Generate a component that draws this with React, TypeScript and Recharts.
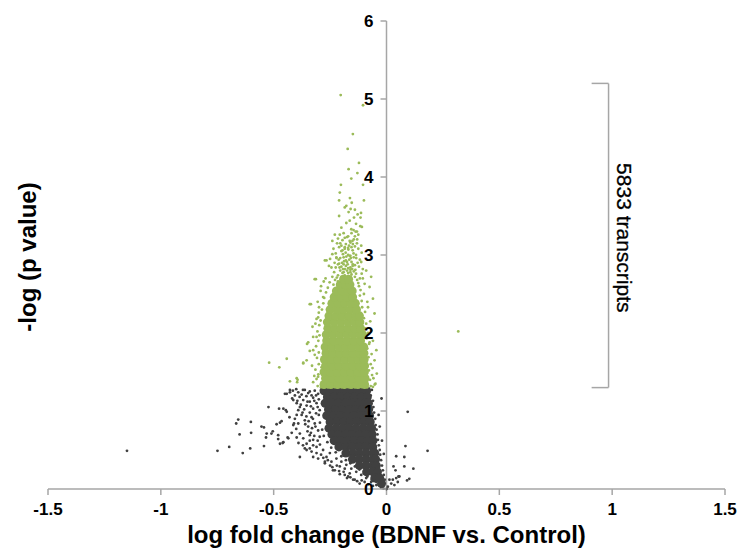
import React from 'react';
import { ScatterChart, Scatter, XAxis, YAxis, ReferenceLine, ReferenceDot } from 'recharts';

const FONT = '"Liberation Sans", Arial, Helvetica, sans-serif';
const GREEN = '#9BBB59';
const DARK = '#404040';
const AXIS = '#A6A6A6';

const xTicks = [-1.5, -1, -0.5, 0, 0.5, 1, 1.5];
const yTicks = [0, 1, 2, 3, 4, 5, 6];

const xTitle = 'log fold change (BDNF vs. Control)';
const yTitle = '-log (p value)';
const bracketText = '5833 transcripts';
const bracketLow = 1.3;
const bracketHigh = 5.2;

// dense body of significant transcripts (green)
const greenCore: [number, number][] = [
  [-0.277, 1.34], [-0.247, 1.34], [-0.217, 1.34], [-0.187, 1.34], [-0.157, 1.34], [-0.127, 1.34], [-0.097, 1.34],
  [-0.27, 1.42], [-0.24, 1.42], [-0.21, 1.42], [-0.18, 1.42], [-0.15, 1.42], [-0.12, 1.42], [-0.095, 1.42],
  [-0.277, 1.5], [-0.247, 1.5], [-0.217, 1.5], [-0.187, 1.5], [-0.157, 1.5], [-0.127, 1.5], [-0.098, 1.5],
  [-0.27, 1.58], [-0.24, 1.58], [-0.21, 1.58], [-0.18, 1.58], [-0.15, 1.58], [-0.12, 1.58], [-0.097, 1.58],
  [-0.275, 1.66], [-0.245, 1.66], [-0.215, 1.66], [-0.185, 1.66], [-0.155, 1.66], [-0.125, 1.66], [-0.099, 1.66],
  [-0.268, 1.74], [-0.238, 1.74], [-0.208, 1.74], [-0.178, 1.74], [-0.148, 1.74], [-0.118, 1.74], [-0.1, 1.74],
  [-0.272, 1.82], [-0.242, 1.82], [-0.212, 1.82], [-0.182, 1.82], [-0.152, 1.82], [-0.122, 1.82], [-0.101, 1.82],
  [-0.265, 1.9], [-0.235, 1.9], [-0.205, 1.9], [-0.175, 1.9], [-0.145, 1.9], [-0.115, 1.9],
  [-0.267, 1.98], [-0.237, 1.98], [-0.207, 1.98], [-0.177, 1.98], [-0.147, 1.98], [-0.117, 1.98], [-0.106, 1.98],
  [-0.26, 2.06], [-0.23, 2.06], [-0.2, 2.06], [-0.17, 2.06], [-0.14, 2.06], [-0.115, 2.06],
  [-0.262, 2.14], [-0.232, 2.14], [-0.202, 2.14], [-0.172, 2.14], [-0.142, 2.14], [-0.118, 2.14],
  [-0.255, 2.22], [-0.225, 2.22], [-0.195, 2.22], [-0.165, 2.22], [-0.135, 2.22], [-0.12, 2.22],
  [-0.25, 2.3], [-0.22, 2.3], [-0.19, 2.3], [-0.16, 2.3], [-0.133, 2.3],
  [-0.242, 2.38], [-0.213, 2.38], [-0.185, 2.38], [-0.157, 2.38], [-0.138, 2.38],
  [-0.232, 2.46], [-0.204, 2.46], [-0.176, 2.46], [-0.15, 2.46],
  [-0.222, 2.54], [-0.196, 2.54], [-0.17, 2.54], [-0.152, 2.54],
  [-0.205, 2.62], [-0.182, 2.62], [-0.162, 2.62],
  [-0.19, 2.69], [-0.168, 2.69],
];

// individual green transcripts around the body and in the upper tail
const greenPoints: [number, number][] = [
  [-0.203, 5.05], [-0.104, 4.92], [-0.149, 4.55], [-0.172, 4.36], [-0.122, 4.18], [-0.168, 4.1], [-0.129, 4.05],
  [-0.156, 3.98], [-0.202, 3.9], [-0.104, 3.9], [-0.207, 3.8], [-0.21, 3.7], [-0.1, 3.7], [-0.162, 3.73],
  [-0.154, 3.67], [-0.178, 3.63], [-0.185, 3.61], [-0.159, 3.59], [-0.14, 3.58], [-0.168, 3.55], [-0.113, 3.54],
  [-0.21, 3.5], [-0.128, 3.52], [-0.144, 3.48], [-0.115, 3.48], [-0.178, 3.41], [-0.163, 3.44], [-0.156, 3.33],
  [-0.146, 3.32], [-0.137, 3.3], [-0.109, 3.36], [-0.116, 3.37], [-0.229, 3.26], [-0.207, 3.26], [-0.185, 3.22],
  [-0.175, 3.23], [-0.163, 3.18], [-0.14, 3.24], [-0.131, 3.3], [-0.219, 3.15], [-0.2, 3.12], [-0.185, 3.1],
  [-0.166, 3.12], [-0.149, 3.14], [-0.131, 3.15], [-0.112, 3.12], [-0.24, 3.01], [-0.222, 2.97], [-0.181, 3.03],
  [-0.16, 2.99], [-0.146, 3.02], [-0.195, 3.06], [-0.169, 3.07], [-0.215, 3.21], [-0.151, 3.18],
  [-0.266, 2.93], [-0.222, 2.96], [-0.193, 3.01], [-0.163, 2.99], [-0.134, 2.96], [-0.21, 2.89], [-0.175, 2.91],
  [-0.149, 2.88], [-0.244, 2.84], [-0.122, 2.85], [-0.193, 2.82], [-0.16, 2.81], [-0.112, 2.91],
  [-0.235, 2.62], [-0.125, 2.64], [-0.118, 2.7], [-0.228, 2.68], [-0.215, 2.74], [-0.135, 2.76], [-0.145, 2.79],
  [-0.19, 2.78], [-0.205, 2.8], [-0.17, 2.77], [-0.16, 2.84], [-0.18, 2.86], [-0.2, 2.85], [-0.215, 2.88],
  [-0.14, 2.87], [-0.128, 2.9], [-0.23, 2.9], [-0.188, 2.92], [-0.165, 2.94], [-0.25, 2.95], [-0.205, 2.96],
  [-0.145, 2.97], [-0.118, 2.94], [-0.178, 2.98], [-0.232, 2.78], [-0.24, 2.72], [-0.11, 2.76], [-0.105, 2.82],
  [-0.255, 2.86], [-0.197, 2.9], [-0.155, 2.91], [-0.172, 2.88], [-0.185, 2.82], [-0.152, 2.82], [-0.225, 2.84],
  [-0.2, 3.05], [-0.17, 3.09], [-0.15, 3.06], [-0.125, 3.08], [-0.21, 3.1], [-0.235, 3.08], [-0.18, 3.14],
  [-0.16, 3.16], [-0.13, 3.2], [-0.195, 3.19], [-0.14, 3.11], [-0.11, 3.03],
  [-0.215, 2.66], [-0.2, 2.72], [-0.185, 2.74], [-0.17, 2.73], [-0.155, 2.75], [-0.14, 2.72], [-0.13, 2.68],
  [-0.22, 2.71], [-0.195, 2.77], [-0.175, 2.8], [-0.16, 2.78], [-0.15, 2.86], [-0.19, 2.88], [-0.208, 2.84],
  [-0.17, 2.83], [-0.138, 2.81], [-0.18, 2.93], [-0.212, 2.94], [-0.158, 2.96], [-0.17, 3.0], [-0.19, 2.97],
  [-0.135, 3.0], [-0.225, 3.02], [-0.185, 3.08], [-0.155, 3.1], [-0.205, 3.15], [-0.145, 3.2], [-0.17, 3.24],
  [-0.19, 3.28], [-0.125, 3.26], [-0.155, 3.28], [-0.24, 3.18], [-0.2, 3.35], [-0.135, 3.4],
  [-0.313, 2.69], [-0.292, 2.54], [-0.34, 2.37], [-0.328, 2.08], [-0.347, 1.88], [-0.354, 1.65], [-0.369, 1.61],
  [-0.325, 1.78], [-0.31, 1.95], [-0.303, 2.2], [-0.299, 2.33], [-0.281, 2.46], [-0.288, 1.56], [-0.303, 1.44],
  [-0.325, 1.37], [-0.398, 1.42], [-0.396, 1.37], [-0.068, 2.72], [-0.06, 2.44], [-0.053, 2.25], [-0.068, 2.03],
  [-0.045, 1.78], [-0.053, 1.65], [-0.043, 1.48], [-0.049, 1.35], [-0.075, 2.59], [-0.082, 2.33], [-0.075, 1.88],
  [-0.09, 2.8], [-0.097, 2.63],
  [-0.52, 1.62], [-0.475, 1.56], [-0.442, 1.67], [-0.428, 1.38], [-0.394, 1.4], [-0.369, 1.62], [-0.352, 1.86],
  [-0.34, 1.77], [-0.335, 2.37], [-0.318, 2.69], [-0.31, 2.18], [-0.278, 2.66], [-0.273, 2.93],
  [-0.305, 1.32], [-0.31, 1.41], [-0.302, 1.47], [-0.315, 1.53], [-0.3, 1.6], [-0.308, 1.68], [-0.3, 1.75],
  [-0.312, 1.83], [-0.302, 1.9], [-0.297, 1.97], [-0.306, 2.02], [-0.298, 2.1], [-0.292, 2.16], [-0.3, 2.26],
  [-0.286, 2.3], [-0.28, 2.38], [-0.276, 2.45], [-0.268, 2.52], [-0.26, 2.58], [-0.252, 2.65],
  [-0.32, 1.45], [-0.33, 1.58], [-0.318, 1.72], [-0.325, 1.95], [-0.315, 2.12], [-0.305, 2.4], [-0.29, 2.6],
  [-0.27, 2.7],
  [-0.07, 1.32], [-0.073, 1.4], [-0.064, 1.46], [-0.078, 1.52], [-0.07, 1.6], [-0.08, 1.69], [-0.066, 1.73],
  [-0.085, 1.8], [-0.077, 1.86], [-0.088, 1.93], [-0.082, 2.0], [-0.094, 2.06], [-0.09, 2.12], [-0.1, 2.19],
  [-0.095, 2.27], [-0.108, 2.33], [-0.11, 2.41], [-0.118, 2.48], [-0.115, 2.55], [-0.122, 2.6],
  [-0.058, 1.42], [-0.062, 1.55], [-0.06, 1.9], [-0.072, 2.15], [-0.085, 2.4], [-0.1, 2.5], [-0.105, 2.7],
  [-0.29, 1.305], [-0.26, 1.302], [-0.23, 1.306], [-0.2, 1.303], [-0.17, 1.305], [-0.14, 1.302], [-0.11, 1.306],
  [-0.085, 1.303], [-0.06, 1.31], [-0.052, 1.34],
  [0.318, 2.02],
];

// dense body of non-significant transcripts (dark)
const darkCore: [number, number][] = [
  [-0.277, 1.26], [-0.247, 1.26], [-0.217, 1.26], [-0.187, 1.26], [-0.157, 1.26], [-0.127, 1.26], [-0.097, 1.26], [-0.088, 1.26],
  [-0.262, 1.18], [-0.232, 1.18], [-0.202, 1.18], [-0.172, 1.18], [-0.142, 1.18], [-0.112, 1.18], [-0.085, 1.18],
  [-0.272, 1.1], [-0.242, 1.1], [-0.212, 1.1], [-0.182, 1.1], [-0.152, 1.1], [-0.122, 1.1], [-0.092, 1.1], [-0.08, 1.1],
  [-0.257, 1.02], [-0.227, 1.02], [-0.197, 1.02], [-0.167, 1.02], [-0.137, 1.02], [-0.107, 1.02], [-0.079, 1.02],
  [-0.265, 0.94], [-0.235, 0.94], [-0.205, 0.94], [-0.175, 0.94], [-0.145, 0.94], [-0.115, 0.94], [-0.085, 0.94], [-0.075, 0.94],
  [-0.25, 0.86], [-0.22, 0.86], [-0.19, 0.86], [-0.16, 0.86], [-0.13, 0.86], [-0.1, 0.86], [-0.072, 0.86],
  [-0.255, 0.78], [-0.225, 0.78], [-0.195, 0.78], [-0.165, 0.78], [-0.135, 0.78], [-0.105, 0.78], [-0.075, 0.78], [-0.066, 0.78],
  [-0.242, 0.7], [-0.212, 0.7], [-0.182, 0.7], [-0.152, 0.7], [-0.122, 0.7], [-0.092, 0.7], [-0.064, 0.7],
  [-0.232, 0.62], [-0.202, 0.62], [-0.172, 0.62], [-0.142, 0.62], [-0.112, 0.62], [-0.082, 0.62], [-0.06, 0.62],
  [-0.211, 0.54], [-0.181, 0.54], [-0.151, 0.54], [-0.121, 0.54], [-0.091, 0.54], [-0.061, 0.54],
  [-0.18, 0.46], [-0.15, 0.46], [-0.12, 0.46], [-0.09, 0.46], [-0.06, 0.46], [-0.052, 0.46],
  [-0.151, 0.38], [-0.121, 0.38], [-0.091, 0.38], [-0.061, 0.38], [-0.048, 0.38],
  [-0.12, 0.3], [-0.09, 0.3], [-0.06, 0.3], [-0.045, 0.3],
  [-0.088, 0.22], [-0.06, 0.22], [-0.04, 0.22],
  [-0.052, 0.14], [-0.03, 0.14],
  [-0.022, 0.07],
];

// individual dark transcripts
const darkPoints: [number, number][] = [
  [-1.15, 0.49], [-0.749, 0.49], [-0.697, 0.54], [-0.637, 0.46], [-0.604, 0.52], [-0.651, 0.7], [-0.666, 0.84],
  [-0.657, 0.89], [-0.601, 0.86], [-0.6, 0.72], [-0.554, 0.8], [-0.543, 0.79], [-0.523, 1.05], [-0.543, 0.55],
  [-0.534, 0.66], [-0.531, 0.71], [-0.51, 0.71], [-0.504, 0.74], [-0.487, 0.83], [-0.472, 0.85], [-0.465, 0.87],
  [-0.48, 0.69], [-0.48, 0.64], [-0.472, 0.58], [-0.46, 0.59], [-0.476, 1.03], [-0.457, 1.03], [-0.446, 1.01],
  [-0.413, 0.82], [-0.438, 0.66], [-0.398, 0.66], [-0.398, 0.95], [-0.391, 1.01], [-0.442, 1.22], [-0.428, 1.24],
  [-0.418, 1.16], [-0.41, 0.84], [-0.384, 0.41], [-0.354, 0.5], [-0.34, 0.52], [-0.325, 0.41], [-0.273, 0.35],
  [-0.237, 0.24], [-0.207, 0.19], [-0.185, 0.26], [-0.17, 0.16], [-0.148, 0.12],
  [-0.45, 1.22], [-0.428, 1.27], [-0.406, 1.2], [-0.391, 1.24], [-0.376, 1.21], [-0.362, 1.27], [-0.347, 1.23],
  [-0.332, 1.2], [-0.318, 1.26], [-0.303, 1.22], [-0.442, 0.99], [-0.413, 1.14], [-0.398, 1.1], [-0.384, 1.05],
  [-0.369, 1.14], [-0.354, 1.07], [-0.34, 1.12], [-0.325, 1.03], [-0.31, 1.1], [-0.296, 1.01], [-0.457, 0.6],
  [-0.435, 0.65], [-0.406, 0.9], [-0.391, 0.84], [-0.376, 0.95], [-0.362, 0.88], [-0.347, 0.8], [-0.332, 0.92],
  [-0.318, 0.84], [-0.303, 0.75], [-0.384, 0.71], [-0.369, 0.65], [-0.354, 0.58], [-0.34, 0.69], [-0.325, 0.63],
  [-0.31, 0.54], [-0.296, 0.67], [-0.281, 0.5], [-0.266, 0.41], [-0.251, 0.46], [-0.362, 0.52], [-0.332, 0.48],
  [-0.303, 0.39], [-0.273, 0.33], [-0.244, 0.35], [-0.229, 0.24], [-0.207, 0.29], [-0.185, 0.18], [-0.163, 0.2],
  [-0.141, 0.12], [-0.119, 0.07], [-0.097, 0.09],
  [-0.415, 1.26], [-0.4, 1.28], [-0.385, 1.18], [-0.37, 1.27], [-0.355, 1.19], [-0.34, 1.25], [-0.325, 1.17],
  [-0.312, 1.2], [-0.395, 1.13], [-0.38, 1.08], [-0.365, 1.02], [-0.35, 1.12], [-0.335, 1.06], [-0.32, 1.13],
  [-0.372, 0.98], [-0.355, 0.93], [-0.34, 0.98], [-0.326, 0.9], [-0.312, 0.97], [-0.36, 0.83], [-0.345, 0.87],
  [-0.33, 0.78], [-0.315, 0.8], [-0.35, 0.74], [-0.335, 0.72], [-0.32, 0.68], [-0.305, 0.62], [-0.34, 0.62],
  [-0.325, 0.56], [-0.31, 0.46], [-0.295, 0.57], [-0.29, 0.44], [-0.28, 0.4], [-0.26, 0.37], [-0.25, 0.3],
  [-0.24, 0.28], [-0.22, 0.3], [-0.21, 0.23], [-0.19, 0.22], [-0.175, 0.14], [-0.16, 0.15], [-0.13, 0.1],
  [-0.11, 0.11], [-0.08, 0.06], [-0.06, 0.04], [-0.4, 0.77], [-0.39, 0.59], [-0.37, 0.56], [-0.42, 0.72],
  [-0.43, 0.92],
  [-0.222, 0.39], [-0.2, 0.35], [-0.178, 0.31], [-0.156, 0.26], [-0.134, 0.22], [-0.112, 0.18], [-0.09, 0.14],
  [-0.068, 0.09], [-0.045, 0.05], [-0.023, 0.02], [-0.013, 0.004], [0.0, 0.0],
  [0.006, 0.03], [0.021, 0.07], [0.028, 0.12], [0.035, 0.05], [0.043, 0.14], [0.05, 0.09], [0.013, 0.12],
  [0.057, 0.16], [0.04, 0.24], [0.079, 0.29], [0.094, 0.99], [0.182, 0.49], [0.084, 0.55], [0.043, 0.42],
  [0.079, 0.41], [0.031, 0.29], [0.119, 0.26], [0.101, 0.13], [0.091, 0.11], [0.053, 0.16],
  [-0.065, 1.27], [-0.07, 1.2], [-0.06, 1.13], [-0.058, 1.05], [-0.055, 0.98], [-0.05, 0.9], [-0.048, 0.82],
  [-0.044, 0.76], [-0.04, 0.7], [-0.038, 0.63], [-0.034, 0.56], [-0.03, 0.5], [-0.028, 0.44], [-0.024, 0.37],
  [-0.02, 0.3], [-0.016, 0.24], [-0.012, 0.18], [-0.008, 0.12], [-0.022, 1.16], [-0.035, 0.95], [-0.03, 0.8],
  [-0.02, 0.62], [-0.012, 0.45],
  [-0.3, 1.15], [-0.305, 1.05], [-0.3, 0.95], [-0.295, 0.85], [-0.285, 0.76], [-0.278, 0.68], [-0.262, 0.6],
  [-0.245, 0.53], [-0.225, 0.47], [-0.2, 0.42], [-0.18, 0.37], [-0.16, 0.33], [-0.14, 0.29], [-0.12, 0.25],
  [-0.1, 0.2], [-0.085, 0.16], [-0.065, 0.12], [-0.045, 0.09], [-0.035, 0.05],
];

const toObj = (arr: [number, number][]) => arr.map(([x, y]) => ({ x, y }));

const dot = (color: string, r: number) => (props: any) => {
  if (props.cx == null || props.cy == null) return <g />;
  return <circle cx={props.cx} cy={props.cy} r={r} fill={color} />;
};

const yTickShape = (v: number) => (props: any) => (
  <g>
    <line x1={props.cx - 6} y1={props.cy} x2={props.cx} y2={props.cy} stroke={AXIS} strokeWidth={1.5} />
    <text
      x={props.cx - 13}
      y={props.cy}
      dy="0.36em"
      textAnchor="end"
      fontFamily={FONT}
      fontWeight="bold"
      fontSize={17}
      fill="#000"
    >
      {v}
    </text>
  </g>
);

const bracketLabel = (props: any) => (
  <text
    x={props.cx}
    y={props.cy}
    transform={`rotate(90, ${props.cx}, ${props.cy})`}
    textAnchor="middle"
    dy="0.35em"
    fontFamily={FONT}
    fontSize={21}
    fill="#000"
    stroke="#000"
    strokeWidth={0.3}
  >
    {bracketText}
  </text>
);

const xTitleLabel = (props: any) => {
  const vb = props.viewBox || {};
  return (
    <text
      x={vb.x + vb.width / 2}
      y={vb.y + vb.height + 24}
      textAnchor="middle"
      fontFamily={FONT}
      fontWeight="bold"
      fontSize={24}
      fill="#000"
    >
      {xTitle}
    </text>
  );
};

const yTitleLabel = (props: any) => {
  const vb = props.viewBox || {};
  const cx = vb.x + 28;
  const cy = vb.y + vb.height / 2 + 2;
  return (
    <text
      x={cx}
      y={cy}
      transform={`rotate(-90, ${cx}, ${cy})`}
      textAnchor="middle"
      dy="0.35em"
      fontFamily={FONT}
      fontWeight="bold"
      fontSize={24}
      fill="#000"
    >
      {yTitle}
    </text>
  );
};

export default function App() {
  return (
    <div style={{ position: 'absolute', left: 0, top: 0, background: '#fff' }}>
      <ScatterChart width={740} height={549} margin={{ top: 21, right: 15, bottom: 30, left: 0 }}>
        <XAxis
          type="number"
          dataKey="x"
          domain={[-1.5, 1.5]}
          ticks={xTicks}
          interval={0}
          height={30}
          stroke={AXIS}
          strokeWidth={1.5}
          tickSize={6}
          tickMargin={8}
          tick={{ fill: '#000', fontSize: 17, fontWeight: 'bold', fontFamily: FONT }}
          label={xTitleLabel}
        />
        <YAxis
          type="number"
          dataKey="y"
          domain={[0, 6]}
          ticks={yTicks}
          width={48}
          tick={false}
          tickLine={false}
          axisLine={false}
          label={yTitleLabel}
        />
        <Scatter data={toObj(darkCore)} shape={dot(DARK, 4.5)} isAnimationActive={false} />
        <Scatter data={toObj(darkPoints)} shape={dot(DARK, 1.4)} isAnimationActive={false} />
        <Scatter data={toObj(greenCore)} shape={dot(GREEN, 4.5)} isAnimationActive={false} />
        <Scatter data={toObj(greenPoints)} shape={dot(GREEN, 1.4)} isAnimationActive={false} />
        <ReferenceLine x={0} stroke={AXIS} strokeWidth={1.5} />
        {yTicks.map((v) => (
          <ReferenceDot key={v} x={0} y={v} shape={yTickShape(v)} />
        ))}
        <ReferenceLine
          segment={[{ x: 0.984, y: bracketLow }, { x: 0.984, y: bracketHigh }]}
          stroke={AXIS}
          strokeWidth={1.5}
        />
        <ReferenceLine
          segment={[{ x: 0.909, y: bracketHigh }, { x: 0.984, y: bracketHigh }]}
          stroke={AXIS}
          strokeWidth={1.5}
        />
        <ReferenceLine
          segment={[{ x: 0.909, y: bracketLow }, { x: 0.984, y: bracketLow }]}
          stroke={AXIS}
          strokeWidth={1.5}
        />
        <ReferenceDot x={1.055} y={3.22} shape={bracketLabel} />
      </ScatterChart>
    </div>
  );
}
